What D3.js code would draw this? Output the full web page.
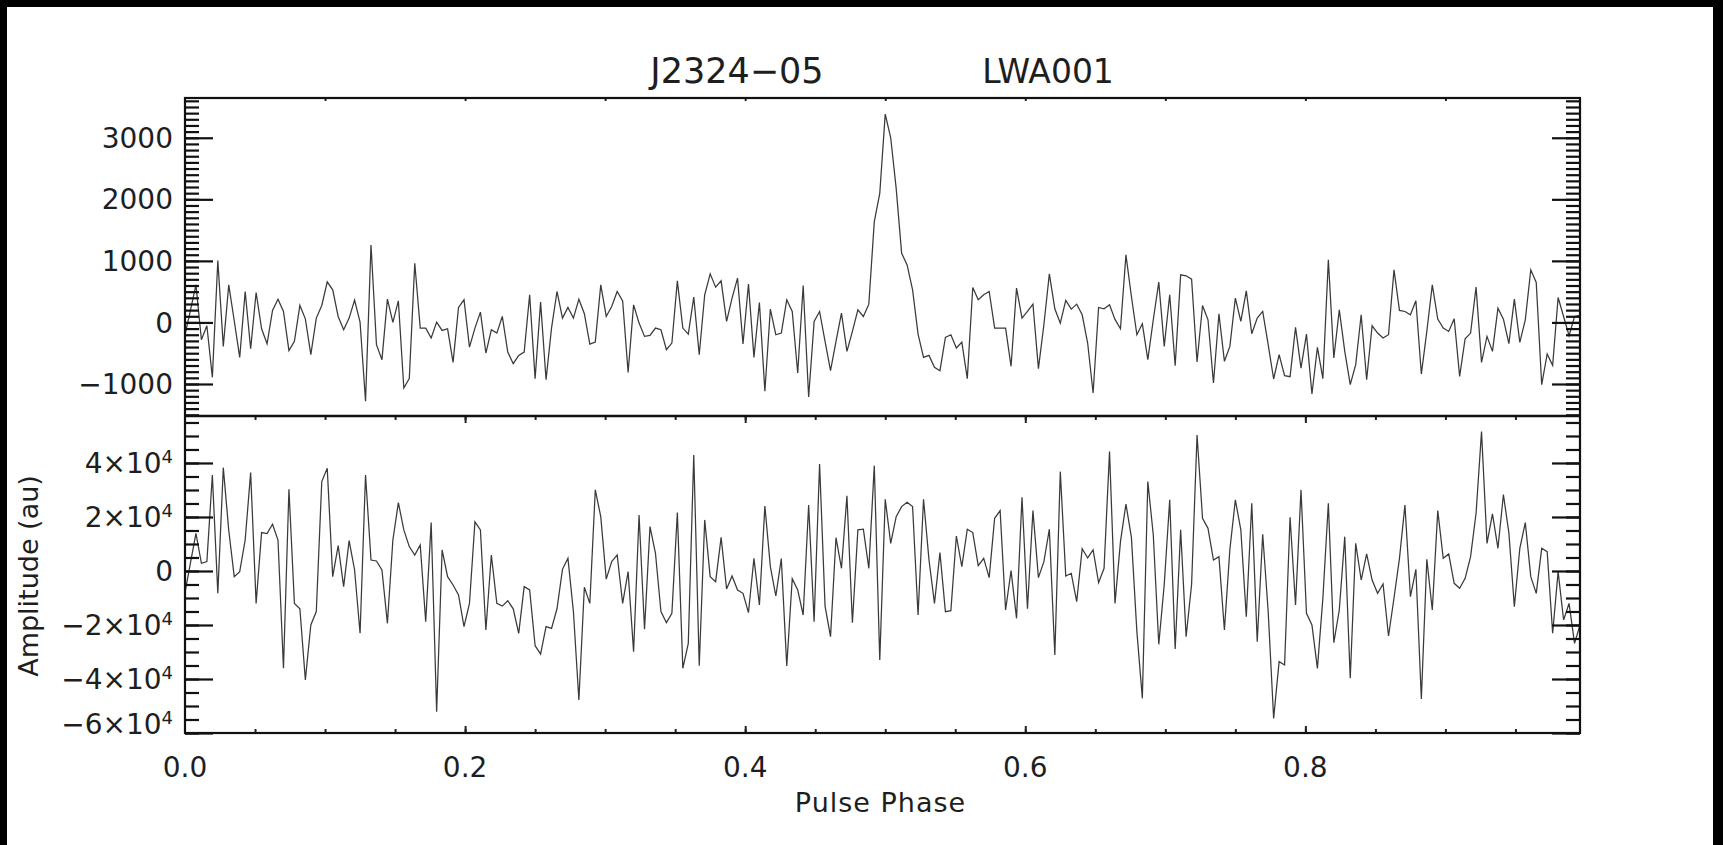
<!DOCTYPE html>
<html>
<head>
<meta charset="utf-8">
<script src="https://cdn.jsdelivr.net/npm/d3@7"></script>
<style>
html, body { margin: 0; padding: 0; background: #fff; }
svg { display: block; }
text { font-family: "DejaVu Sans", sans-serif; fill: #1e1e1e; }
</style>
</head>
<body>
<svg id="chart"></svg>
<script>
// pulse profile, 256 phase bins
const nBins = 256;

// top panel: integrated profile
const topProfile = [
  -200, 200, 611, -281, -54, -892, 1005, -389, 611, 27,
  -568, 503, -427, 486, -103, -346, 195, 378, 178, -459,
  -308, 276, 59, -524, 70, 276, 659, 530, 97, -119,
  70, 362, 5, -1281, 1259, -362, -605, 378, 0, 351,
  -1065, -913, 962, -92, -92, -254, 5, -130, -103, -649,
  243, 368, -400, -92, 168, -497, -119, -173, 97, -481,
  -670, -535, -481, 449, -913, 330, -930, -92, 503, 70,
  243, 70, 378, 141, -351, -319, 611, 97, 259, 503,
  351, -811, 286, -11, -227, -211, -92, -119, -443, -335,
  676, -92, -189, 411, -524, 449, 789, 573, 676, 16,
  395, 719, -351, 622, -568, 324, -1119, 216, -200, -173,
  368, 178, -822, 600, -1211, 16, 178, -308, -784, -308,
  151, -470, -146, 205, 97, 297, 1638, 2097, 3384, 3000,
  2178, 1124, 935, 530, -189, -568, -535, -730, -784, -243,
  -200, -416, -319, -913, 568, 368, 449, 503, -92, -92,
  -92, -713, 557, 70, 178, 297, -751, -38, 789, 222,
  -11, 357, 216, 297, 124, -335, -1146, 243, 222, 286,
  50, -103, 1097, 422, -200, -22, -605, 43, 654, -389,
  449, -703, 773, 757, 703, -643, 276, 43, -984, 141,
  -632, -389, 395, 16, 513, -184, 70, 178, -362, -919,
  -524, -865, -881, -81, -741, -189, -1162, -405, -913, 1016,
  -578, 205, -470, -1011, -686, 124, -930, -54, -173, -254,
  -200, 854, 195, 178, 124, 351, -838, -146, 611, 54,
  -92, -146, 59, -876, -265, -173, 573, -649, -227, -470,
  232, 54, -346, 378, -324, 43, 854, 649, -1011, -513,
  -697, 405, 97, -216, 97, 114
];

// bottom panel
const bottomProfile = [
  -8000, 3000, 13950, 2840, 3460, 35550, -8270, 38270, 15000, -2100,
  -250, 11470, 36420, -12000, 14220, 13850, 17310, 11470, -36050, 30280,
  -12000, -14000, -40370, -20000, -15000, 33110, 38050, -2100, 9380, -5800,
  11220, 370, -23080, 35550, 4070, 3700, 370, -19380, 11470, 25340,
  15220, 9040, 5930, 9660, -18770, 17920, -52100, 7780, -2100, -5180,
  -8890, -20620, -12000, 18170, 15220, -21860, 5930, -12000, -13000, -11000,
  -14000, -23080, -5800, -7030, -27670, -30750, -20620, -21250, -14000, 620,
  4690, -15000, -47780, -6040, -12000, 30030, 20130, -3000, 3460, 5930,
  -12000, -250, -29880, 20750, -21610, 16430, 6550, -15000, -19140, -15680,
  21620, -36050, -26790, 42970, -35070, 18910, -2100, -3950, 12460, -6660,
  -1850, -7030, -8270, -15430, 4690, -12600, 24050, 1610, -9260, 4570,
  -35190, -2840, -7030, -16300, 24420, -18770, 39630, -13000, -24320, 12340,
  990, 27810, -19140, 15220, 15470, 990, 39010, -32970, 26580, 10230,
  20130, 23840, 25440, 23840, -16300, 26580, 4070, -11980, 6800, -15060,
  -14690, 12960, 1610, 15470, 14230, 1980, 4690, -2470, 19510, 22350,
  -14440, 120, -17530, 27310, -14000, 22350, -2470, 3460, 15470, -31110,
  36790, -1850, -860, -11360, 8290, 4830, 7780, -4320, 990, 44200,
  -12000, 10850, 24810, 12460, -22470, -47160, 33110, 13340, -27160, -5000,
  26330, -28890, 15220, -24320, -5000, 50380, 19510, 15800, 4070, 5310,
  -21860, 8000, 26330, 15220, -16920, 25090, -26170, 13590, -15000, -54580,
  -33580, -34810, 19880, -12600, 30030, -15680, -20000, -36050, -10000, 25090,
  -26540, -14440, 12710, -39760, 10230, -3340, 6300, -3340, -8270, -4810,
  -24070, -10000, 4690, 24420, -9510, 620, -47410, 4320, -14440, 22350,
  4690, 6300, -4570, -6420, -2720, 5310, 21360, 51620, 10230, 21120,
  8400, 28280, 14100, -13210, 8400, 17920, -2100, -8270, 8400, 7160,
  -23080, -250, -18150, -12000, -26790, -20000
];

const topTicks = [-1000, 0, 1000, 2000, 3000];
const bottomTicks = [-60000, -40000, -20000, 0, 20000, 40000];
const phaseTicks = [0, 0.2, 0.4, 0.6, 0.8];
const pulsarName = 'J2324−05';
const stationName = 'LWA001';

const W = 1723, H = 845;
const plotL = 185, plotR = 1580;
const topY = 98, midY = 416, botY = 733;

const svg = d3.select('#chart').attr('width', W).attr('height', H);
svg.append('rect').attr('width', W).attr('height', H).attr('fill', '#fff');

// dark edges of the scanned figure
svg.append('rect').attr('x', 0).attr('y', 0).attr('width', W).attr('height', 7).attr('fill', '#000');
svg.append('rect').attr('x', 0).attr('y', 0).attr('width', 7).attr('height', H).attr('fill', '#000');
svg.append('rect').attr('x', W - 10).attr('y', 0).attr('width', 10).attr('height', H).attr('fill', '#000');

const x = d3.scaleLinear().domain([0, (nBins - 1) / nBins]).range([plotL, plotR]);
const yTop = d3.scaleLinear().domain([-1520, 3646]).range([midY, topY]);
const yBot = d3.scaleLinear().domain([-60000, 57400]).range([botY, midY]);

const line = (scale) => d3.line()
  .x((d, i) => x(i / nBins))
  .y(d => scale(d));

svg.append('path')
  .datum(topProfile)
  .attr('d', line(yTop))
  .attr('fill', 'none')
  .attr('stroke', '#3a3a3a')
  .attr('stroke-width', 1.25);

svg.append('path')
  .datum(bottomProfile)
  .attr('d', line(yBot))
  .attr('fill', 'none')
  .attr('stroke', '#3a3a3a')
  .attr('stroke-width', 1.25);

// y ticks on both sides, minor + major
const yAxisTicks = (scale, major, minor) => {
  [['left', plotL], ['right', plotR]].forEach(([side, xp]) => {
    const mk = side === 'left' ? d3.axisLeft : d3.axisRight;
    const gMin = svg.append('g').attr('transform', `translate(${xp},0)`)
      .call(mk(scale).tickValues(minor).tickSize(-14).tickFormat(''));
    const gMaj = svg.append('g').attr('transform', `translate(${xp},0)`)
      .call(mk(scale).tickValues(major).tickSize(-28).tickFormat(''));
    [gMin, gMaj].forEach(g => {
      g.select('.domain').remove();
      g.selectAll('line').attr('stroke', '#111').attr('stroke-width', 2.2);
    });
  });
};

yAxisTicks(yTop, topTicks, d3.range(-1500, 3601, 100));
yAxisTicks(yBot, bottomTicks, d3.range(-60000, 57001, 5000));

// x ticks
const phaseMinor = d3.range(1, 20).map(k => k * 0.05);
const phaseMajor = phaseMinor.filter((d, k) => (k + 1) % 4 === 0);

const xTicks = (axisFn, yp, vals, len) => {
  const g = svg.append('g').attr('transform', `translate(0,${yp})`)
    .call(axisFn(x).tickValues(vals).tickSize(len).tickFormat(''));
  g.select('.domain').remove();
  g.selectAll('line').attr('stroke', '#222').attr('stroke-width', 2);
};

xTicks(d3.axisBottom, topY, d3.range(1, 10).map(k => k * 0.1), 3);
xTicks(d3.axisBottom, midY, phaseMinor, 4);
xTicks(d3.axisBottom, midY, phaseMajor, 7);
xTicks(d3.axisTop, botY, phaseMinor, 4);
xTicks(d3.axisTop, botY, phaseMajor, 7);

// frames
svg.append('rect')
  .attr('x', plotL).attr('y', topY)
  .attr('width', plotR - plotL).attr('height', botY - topY)
  .attr('fill', 'none').attr('stroke', '#111').attr('stroke-width', 2.2);
svg.append('line')
  .attr('x1', plotL).attr('x2', plotR).attr('y1', midY).attr('y2', midY)
  .attr('stroke', '#111').attr('stroke-width', 2.4);

// tick labels
const fmtTop = d3.format('d');
svg.append('g').selectAll('text')
  .data(topTicks)
  .join('text')
  .attr('x', plotL - 12)
  .attr('y', d => yTop(d))
  .attr('dy', '0.36em')
  .attr('text-anchor', 'end')
  .style('font-size', '28px')
  .text(d => fmtTop(d));

const botLabels = svg.append('g').selectAll('text')
  .data(bottomTicks)
  .join('text')
  .attr('x', plotL - 12)
  .attr('y', d => yBot(d) - (d === -60000 ? 9 : 0))
  .attr('dy', '0.36em')
  .attr('text-anchor', 'end')
  .style('font-size', '28px');

botLabels.each(function(d) {
  const t = d3.select(this);
  if (d === 0) { t.text('0'); return; }
  const k = d / 10000;
  t.append('tspan').text(`${k < 0 ? '−' : ''}${Math.abs(k)}×10`);
  t.append('tspan').attr('dy', '-0.55em').style('font-size', '18px').text('4');
});

svg.append('g').selectAll('text')
  .data(phaseTicks)
  .join('text')
  .attr('x', d => x(d))
  .attr('y', 777)
  .attr('text-anchor', 'middle')
  .style('font-size', '28px')
  .text(d => d3.format('.1f')(d));

// axis titles
svg.append('text')
  .attr('x', (plotL + plotR) / 2 - 2)
  .attr('y', 812)
  .attr('text-anchor', 'middle')
  .style('font-size', '27px')
  .style('letter-spacing', '1px')
  .text('Pulse Phase');

svg.append('text')
  .attr('transform', `translate(38,576)rotate(-90)`)
  .attr('text-anchor', 'middle')
  .style('font-size', '27px')
  .text('Amplitude (au)');

svg.append('text')
  .attr('x', 737)
  .attr('y', 83)
  .attr('text-anchor', 'middle')
  .style('font-size', '35px')
  .text(pulsarName);

svg.append('text')
  .attr('x', 1048)
  .attr('y', 83)
  .attr('text-anchor', 'middle')
  .style('font-size', '33px')
  .text(stationName);
</script>
</body>
</html>
